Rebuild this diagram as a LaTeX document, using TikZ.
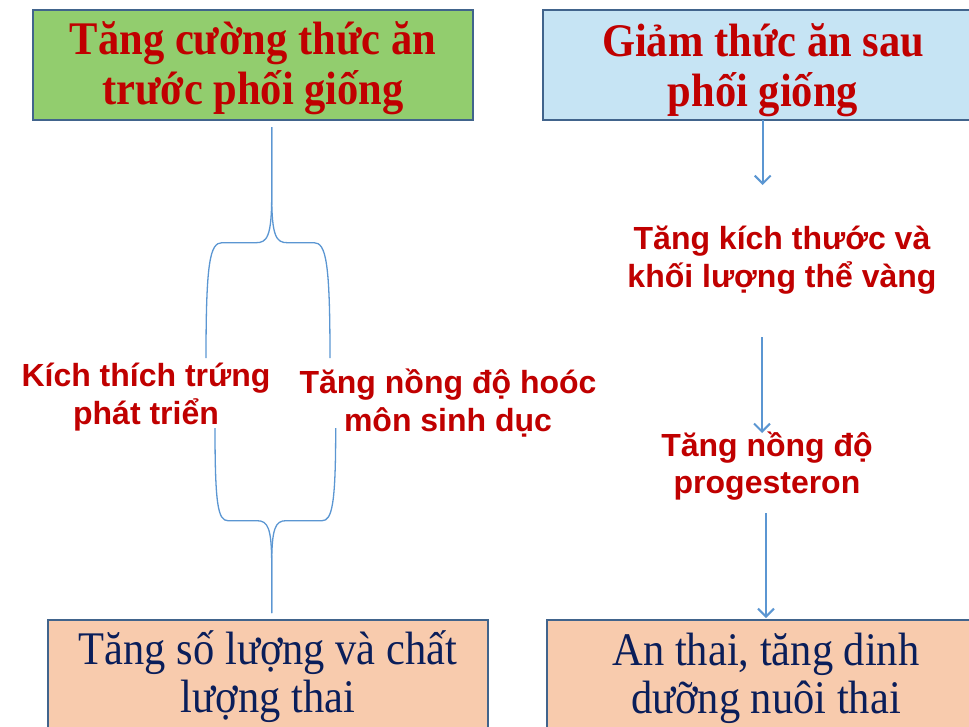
\documentclass[tikz,border=0pt]{standalone}
\usepackage{fontspec}
\setmainfont{Liberation Serif}
\newfontfamily\arialb{Liberation Sans}
\usetikzlibrary{arrows.meta}
\definecolor{boxgreen}{RGB}{146,205,110}
\definecolor{boxblue}{RGB}{198,228,244}
\definecolor{boxpeach}{RGB}{248,203,173}
\definecolor{boxedge}{RGB}{65,100,140}
\definecolor{redtxt}{RGB}{192,0,0}
\definecolor{navytxt}{RGB}{10,30,90}
\definecolor{linkblue}{RGB}{91,150,210}
\newcommand{\tallx}[1]{\scalebox{1}[1.1]{#1}}
\tikzset{
  topbox/.style={draw=boxedge, line width=2pt},
  toptxt/.style={text=redtxt, font=\fontsize{42.5}{50}\selectfont\bfseries, align=center, inner sep=0pt},
  bottxt/.style={text=navytxt, font=\fontsize{42.5}{48}\selectfont, align=center, inner sep=0pt},
  midtxt/.style={text=redtxt, font=\arialb\fontsize{32}{37.5}\selectfont\bfseries, align=center, inner sep=0pt},
  link/.style={draw=linkblue, line width=1.3pt},
  arr/.style={link, line width=2pt, -{Straight Barb[length=8pt,width=16pt,line width=2pt]}}
}
\begin{document}
\begin{tikzpicture}[x=1pt,y=-1pt]
\useasboundingbox (0,0) rectangle (969,726);
\clip (0,0) rectangle (969,726);
% boxes
\draw[topbox, fill=boxgreen] (33,10) rectangle (473,120);
\draw[topbox, fill=boxblue] (543,10) rectangle (980,120);
\draw[topbox, fill=boxpeach] (48,620) rectangle (488,740);
\draw[topbox, fill=boxpeach] (547,620) rectangle (980,740);
% box texts
\node[toptxt] (tl) at (253,68) {\tallx{Tăng cường thức ăn}\\\tallx{trước phối giống}};
\node[toptxt] (tr) at (763,70) {\tallx{Giảm thức ăn sau}\\\tallx{phối giống}};
\node[bottxt] (bl) at (268,677) {\tallx{Tăng số lượng và chất}\\\tallx{lượng thai}};
\node[bottxt] (br) at (766,678) {\tallx{An thai, tăng dinh}\\\tallx{dưỡng nuôi thai}};
% middle texts
\node[midtxt] (kt) at (146,397) {Kích thích trứng\\phát triển};
\node[midtxt] (hm) at (448,403) {Tăng nồng độ hoóc\\môn sinh dục};
\node[midtxt] (kv) at (782,260) {Tăng kích thước và\\khối lượng thể vàng};
\node[midtxt] (pg) at (767,466) {Tăng nồng độ\\progesteron};
% coordinates for braces
\coordinate (b1top) at (271.7,127);
\coordinate (b1l) at (206,358);
\coordinate (b1r) at (330,358);
\coordinate (b2l) at (215,428);
\coordinate (b2r) at (335.7,428);
\coordinate (b2bot) at (271.7,613);
% upper brace
\draw[link] (b1top) -- (271.7,195) .. controls (271.7,237) and (267,242.7) .. (256,242.7)
  -- (222,242.7) .. controls (210,242.7) and (206,262) .. (b1l);
\draw[link] (b1top) -- (271.7,195) .. controls (271.7,237) and (276.4,242.7) .. (287.4,242.7)
  -- (314,242.7) .. controls (326,242.7) and (330,262) .. (b1r);
% lower brace
\draw[link] (b2l) .. controls (215,505) and (218,520.7) .. (228,520.7)
  -- (257,520.7) .. controls (268,520.7) and (271.7,528) .. (271.7,565) -- (b2bot);
\draw[link] (b2r) .. controls (335.7,505) and (332,520.7) .. (322,520.7)
  -- (286,520.7) .. controls (275.4,520.7) and (271.7,528) .. (271.7,565) -- (b2bot);
% arrows right column
\coordinate (a1s) at (762.7,120);
\coordinate (a1e) at (762.7,185);
\coordinate (a2s) at (762,337);
\coordinate (a2e) at (762,433);
\coordinate (a3s) at (766,513);
\coordinate (a3e) at (766,618);
\draw[arr] (a1s) -- (a1e);
\draw[arr] (a2s) -- (a2e);
\draw[arr] (a3s) -- (a3e);
\end{tikzpicture}
\end{document}
